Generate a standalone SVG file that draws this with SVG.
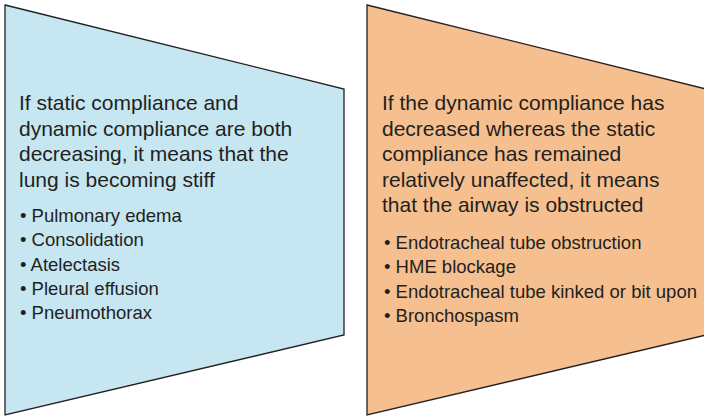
<svg xmlns="http://www.w3.org/2000/svg" width="704" height="418" viewBox="0 0 704 418">
  <style>
    .panel { stroke: #231f20; stroke-width: 1.3; stroke-linejoin: miter; }
    .blue { fill: #c6e6f1; }
    .orange { fill: #f5bf8f; }
    .head { font-family: "Liberation Sans", Arial, sans-serif; font-size: 21px; fill: #231f20; }
    .item { font-family: "Liberation Sans", Arial, sans-serif; font-size: 18.5px; fill: #231f20; }
  </style>
  <rect width="704" height="418" fill="#ffffff"/>

  <!-- Left panel: lung becoming stiff -->
  <g id="stiff-lung">
    <polygon class="panel blue" points="5,5 344,89 344,335 5,415"/>
    <text class="head" x="19" y="110">If static compliance and</text>
    <text class="head" x="19" y="135.5">dynamic compliance are both</text>
    <text class="head" x="19" y="161">decreasing, it means that the</text>
    <text class="head" x="19" y="186.5">lung is becoming stiff</text>
    <text class="item" x="20" y="222">• Pulmonary edema</text>
    <text class="item" x="20" y="246">• Consolidation</text>
    <text class="item" x="20" y="270.5">• Atelectasis</text>
    <text class="item" x="20" y="294.5">• Pleural effusion</text>
    <text class="item" x="20" y="319">• Pneumothorax</text>
  </g>

  <!-- Right panel: airway obstruction -->
  <g id="airway-obstruction">
    <polygon class="panel orange" points="367,5 706,89 706,335 367,415"/>
    <text class="head" x="382" y="110">If the dynamic compliance has</text>
    <text class="head" x="382" y="135.5">decreased whereas the static</text>
    <text class="head" x="382" y="161">compliance has remained</text>
    <text class="head" x="382" y="186.5">relatively unaffected, it means</text>
    <text class="head" x="382" y="212">that the airway is obstructed</text>
    <text class="item" x="384" y="248.5">• Endotracheal tube obstruction</text>
    <text class="item" x="384" y="273">• HME blockage</text>
    <text class="item" x="384" y="297.5">• Endotracheal tube kinked or bit upon</text>
    <text class="item" x="384" y="322">• Bronchospasm</text>
  </g>

  <g id="connectors"/>
</svg>
